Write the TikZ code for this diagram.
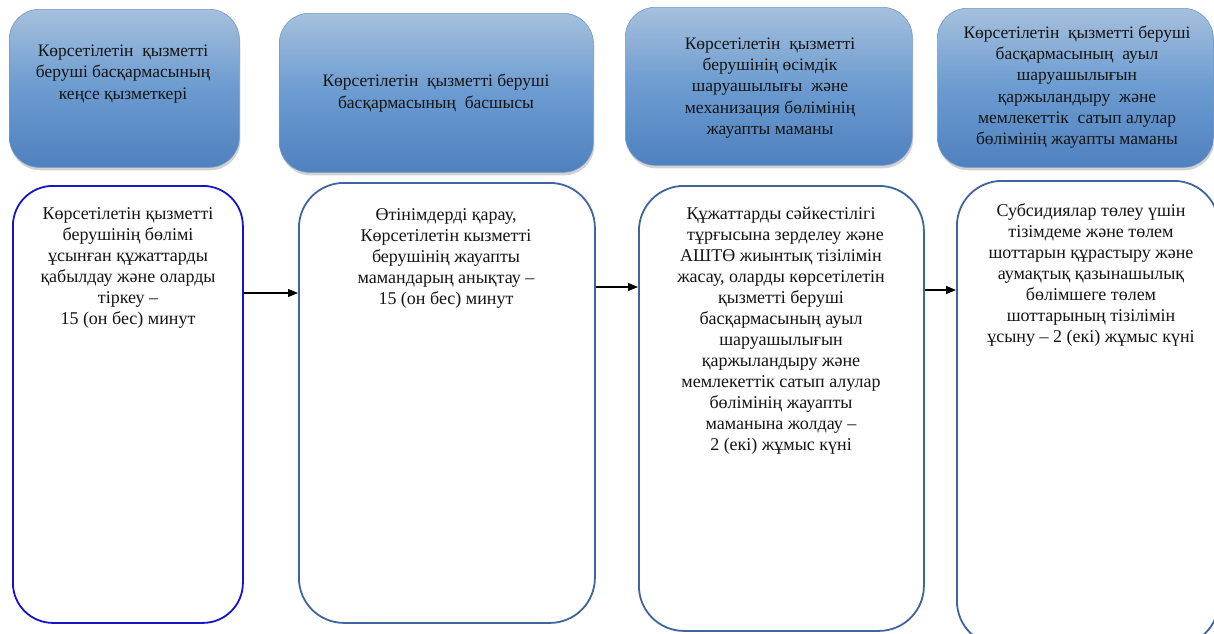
\documentclass[tikz,border=0pt]{standalone}
\usepackage{fontspec}
\setmainfont{Liberation Serif}
\usetikzlibrary{arrows.meta,shadows}
\definecolor{hdtop}{HTML}{A6C0DD}
\definecolor{hdmid}{HTML}{6B9BD0}
\definecolor{hdbot}{HTML}{4F81BF}
\definecolor{hdline}{HTML}{7397C6}
\definecolor{boxline}{HTML}{3F64A0}
\definecolor{boxblue}{HTML}{1414C8}
\definecolor{txtcol}{HTML}{141414}
\begin{document}
\begin{tikzpicture}[x=1pt,y=-1pt,
  hdr/.style={draw=hdline, line width=0.6pt, rounded corners=30pt,
    top color=hdtop, bottom color=hdbot, middle color=hdmid,
    drop shadow={opacity=0.35, shadow xshift=1pt, shadow yshift=-3pt},
    inner sep=0pt, anchor=north west},
  stepbox/.style={draw=boxline, line width=1.8pt, rounded corners=45pt,
    fill=white, inner sep=0pt, anchor=north west},
  txt/.style={align=center, text=txtcol, inner sep=0pt,
    font=\fontsize{18}{21}\selectfont},
  htxt/.style={align=center, text=txtcol, inner sep=0pt,
    font=\fontsize{17.5}{21.3}\selectfont},
  arr/.style={line width=1.1pt, -{Triangle[length=10pt,width=8pt]}}
]
\clip (0,0) rectangle (1214,633);
\fill[white] (0,0) rectangle (1214,633);

% header boxes
\node[hdr, minimum width=230pt, minimum height=158pt] (h1) at (9,9) {};
\node[hdr, minimum width=314pt, minimum height=159pt] (h2) at (279,13) {};
\node[hdr, minimum width=287pt, minimum height=158pt] (h3) at (625,7) {};
\node[hdr, minimum width=276pt, minimum height=159pt] (h4) at (937,8) {};

\node[htxt] (h1t) at (123,74) {Көрсетілетін\ \ қызметті\\беруші\ басқармасының\\кеңсе қызметкері};
\node[htxt] (h2t) at (436,93) {Көрсетілетін\ \ қызметті беруші\\басқармасының\ \ басшысы};
\node[htxt] (h3t) at (770,88) {Көрсетілетін\ \ қызметті\\берушінің өсімдік\\шаруашылығы\ \ және\\механизация бөлімінің\\жауапты маманы};
\node[htxt] (h4t) at (1077,87) {Көрсетілетін\ \ қызметті беруші\\басқармасының\ \ ауыл\\шаруашылығын\\қаржыландыру\ \ және\\мемлекеттік\ \ сатып\ алулар\\бөлімінің жауапты маманы};

% step boxes
\node[stepbox, draw=boxblue, rounded corners=40pt, minimum width=230pt, minimum height=437pt] (b1) at (12,185) {};
\node[stepbox, minimum width=296pt, minimum height=440pt] (b2) at (298,182) {};
\node[stepbox, minimum width=285pt, minimum height=445pt] (b3) at (638,185) {};
\node[stepbox, minimum width=262pt, minimum height=465pt] (b4) at (956,180) {};

\node[txt] (b1t) at (128,268) {Көрсетілетін қызметті\\берушінің бөлімі\\ұсынған құжаттарды\\қабылдау және оларды\\тіркеу –\\15 (он бес) минут};
\node[txt] (b2t) at (446,258) {Өтінімдерді қарау,\\Көрсетілетін кызметті\\берушінің жауапты\\мамандарың анықтау –\\15 (он бес) минут};
\node[txt] (b3t) at (781,331) {Құжаттарды сәйкестілігі\\\ \ тұрғысына зерделеу және\\АШТӨ жиынтық тізілімін\\жасау, оларды көрсетілетін\\қызметті беруші\\басқармасының ауыл\\шаруашылығын\\қаржыландыру және\\мемлекеттік сатып алулар\\бөлімінің жауапты\\маманына жолдау –\\2 (екі) жұмыс күні};
\node[txt] (b4t) at (1091,275) {Субсидиялар төлеу үшін\\тізімдеме және төлем\\шоттарын құрастыру және\\аумақтық қазынашылық\\бөлімшеге төлем\\шоттарының тізілімін\\ұсыну – 2 (екі) жұмыс күні};

% arrows
\coordinate (y1) at (0,293);
\coordinate (y2) at (0,287);
\coordinate (y3) at (0,290);
\draw[arr] (b1.east |- y1) -- (b2.west |- y1);
\draw[arr] (b2.east |- y2) -- (b3.west |- y2);
\draw[arr] (b3.east |- y3) -- (b4.west |- y3);
\end{tikzpicture}
\end{document}
